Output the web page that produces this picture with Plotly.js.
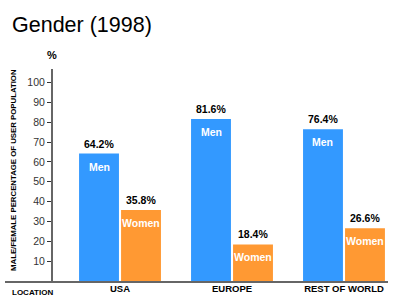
<!DOCTYPE html>
<html>
<head>
<meta charset="utf-8">
<script src="https://cdn.plot.ly/plotly-3.0.1.min.js"></script>
<style>
  html, body { margin: 0; padding: 0; background: #fff; }
  #chart { width: 400px; height: 300px; }
</style>
</head>
<body>
<div id="chart"></div>
<script>
// Internet user population by gender, 1998
const locations = ['USA', 'EUROPE', 'REST OF WORLD'];
const menShare = [64.2, 81.6, 76.4];
const womenShare = [35.8, 18.4, 26.6];
const yTickValues = [10, 20, 30, 40, 50, 60, 70, 80, 90, 100];
const seriesNames = ['Men', 'Women'];

const BLUE = '#3399ff';
const ORANGE = '#ff9933';
const AXIS = '#666666';
const SANS = '"Liberation Sans", Arial, Helvetica, sans-serif';

const yRange = [0, 106.8];
const yPos = 47 / 383;   // y axis sits inside the wide plot area

const traces = [
  { type: 'bar', name: seriesNames[0], x: locations, y: menShare,
    marker: { color: BLUE }, hoverinfo: 'none' },
  { type: 'bar', name: seriesNames[1], x: locations, y: womenShare,
    marker: { color: ORANGE }, hoverinfo: 'none' }
];

// value labels above the bars and series names inside their tops
const annotations = [];
[menShare, womenShare].forEach((vals, s) => {
  const shift = s === 0 ? -21 : 21;
  vals.forEach((v, i) => {
    annotations.push({
      x: locations[i], y: v, xref: 'x', yref: 'y', xshift: shift, yshift: 2,
      yanchor: 'bottom', showarrow: false, text: v.toFixed(1) + '%',
      font: { family: SANS, size: 10.5, color: '#000', weight: 'bold' }
    });
    annotations.push({
      x: locations[i], y: v, xref: 'x', yref: 'y', xshift: shift, yshift: -5,
      yanchor: 'top', showarrow: false, text: seriesNames[s],
      font: { family: SANS, size: 10.5, color: '#fff', weight: 'bold' }
    });
  });
});

annotations.push(
  { text: 'MALE/FEMALE PERCENTAGE OF USER POPULATION', textangle: -90,
    xref: 'paper', yref: 'paper', x: (13 - 5) / 383, y: (281 - 170) / 212,
    xanchor: 'center', yanchor: 'middle', showarrow: false,
    font: { family: SANS, size: 7.8, color: '#000', weight: 'bold' } },
  { text: '%', xref: 'paper', yref: 'paper', x: yPos, y: (281 - 55) / 212,
    xanchor: 'center', yanchor: 'middle', showarrow: false,
    font: { family: SANS, size: 11, color: '#000', weight: 'bold' } },
  { text: 'LOCATION', xref: 'paper', yref: 'paper', x: (32 - 5) / 383, y: (281 - 292) / 212,
    xanchor: 'center', yanchor: 'middle', showarrow: false,
    font: { family: SANS, size: 8, color: '#000', weight: 'bold' } }
);

const layout = {
  width: 400, height: 300,
  margin: { l: 5, r: 12, t: 69, b: 19 },
  paper_bgcolor: '#fff', plot_bgcolor: '#fff',
  showlegend: false,
  barmode: 'group', bargap: 0.25, bargroupgap: 0.05,
  title: {
    text: 'Gender (1998)', xref: 'container', yref: 'container',
    x: 12 / 400, xanchor: 'left', y: 1 - 24 / 300, yanchor: 'middle',
    font: { family: SANS, size: 21.5, color: '#000' }
  },
  xaxis: {
    type: 'category', range: [-1.027, 2.393], fixedrange: true,
    showline: true, linecolor: AXIS, linewidth: 2, ticks: '',
    ticklabelstandoff: -2,
    showgrid: false, zeroline: false,
    tickfont: { family: SANS, size: 9.5, color: '#000', weight: 'bold' }
  },
  yaxis: {
    range: yRange, anchor: 'free', position: yPos, fixedrange: true,
    showline: true, linecolor: AXIS, linewidth: 2,
    ticks: 'outside', ticklen: 4, tickwidth: 1, tickcolor: '#333',
    tickvals: yTickValues, ticktext: yTickValues.map(String),
    showgrid: false, zeroline: false,
    tickfont: { family: SANS, size: 10.5, color: '#333' }
  },
  yaxis2: {
    range: yRange, anchor: 'free', position: yPos, overlaying: 'y', fixedrange: true,
    showline: false, ticks: 'inside', ticklen: 6, tickwidth: 1, tickcolor: '#333',
    tickvals: yTickValues, showticklabels: false, showgrid: false, zeroline: false
  },
  annotations: annotations
};

Plotly.newPlot('chart', traces, layout, { displayModeBar: false, staticPlot: true });
</script>
</body>
</html>
